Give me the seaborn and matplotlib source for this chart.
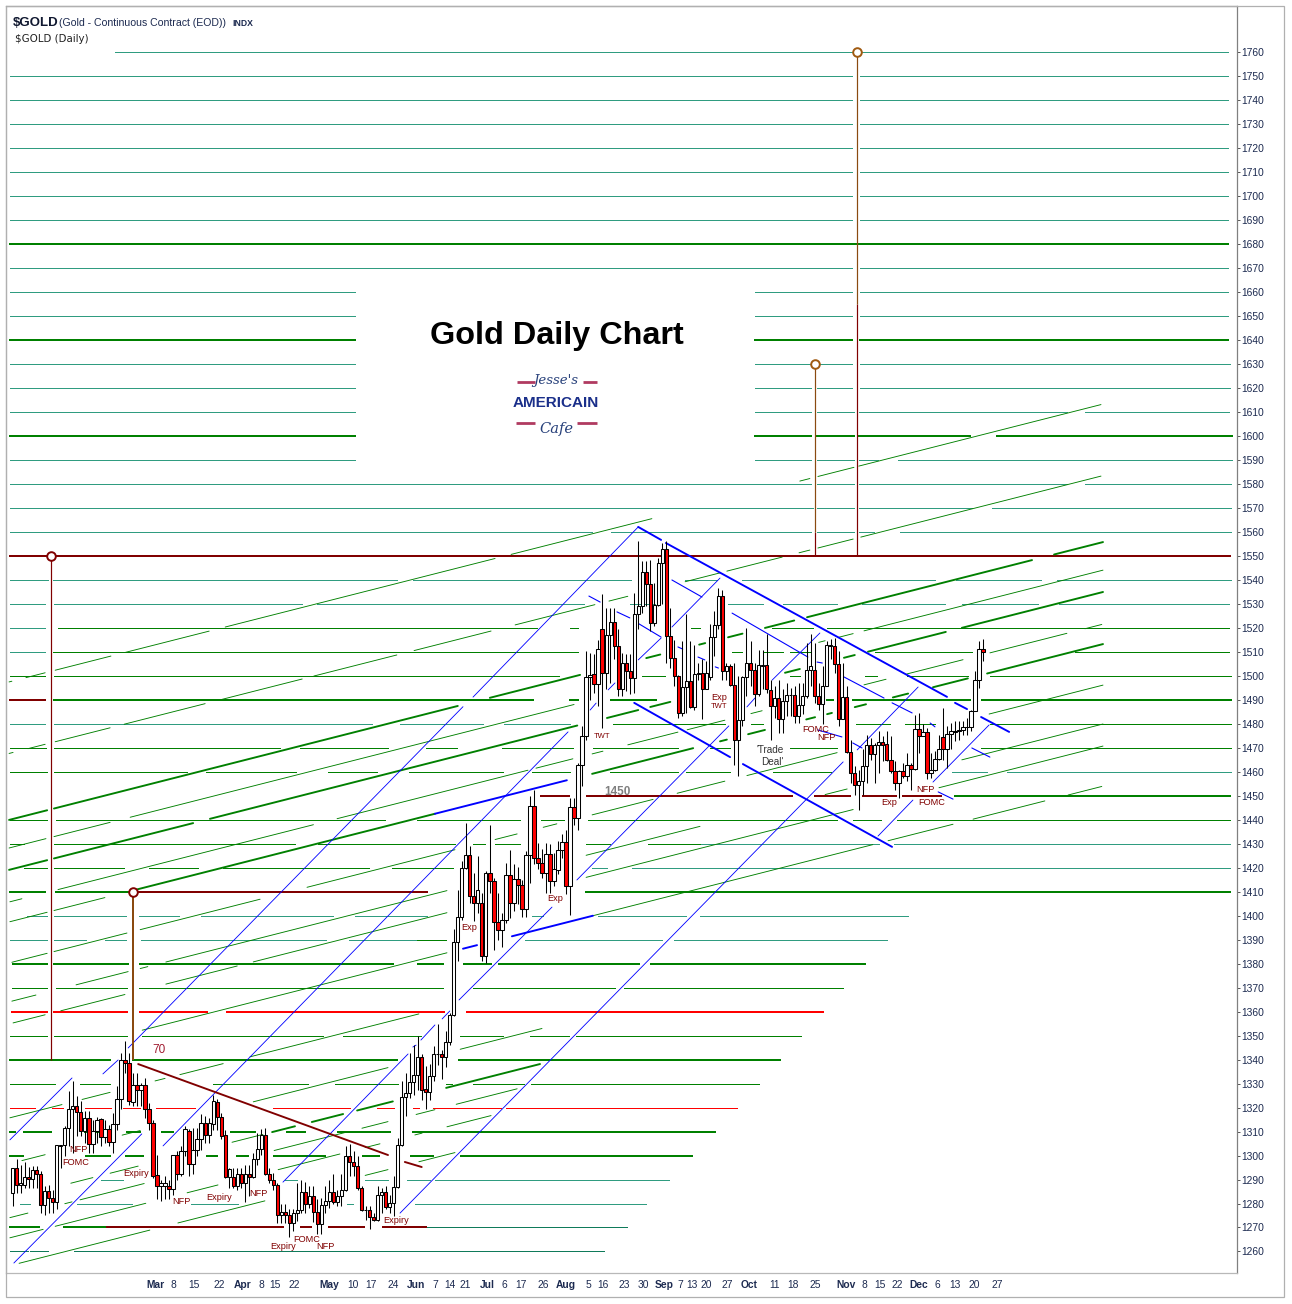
import matplotlib
matplotlib.use("Agg")
import matplotlib.pyplot as plt
from matplotlib.patches import Rectangle
import numpy as np
import pandas as pd
import seaborn as sns

# daily candles
opens = [1284.4,1294.9,1287.6,1287.9,1291.1,1290.3,1293.9,1292.1,1279.2,1285.1,
    1282.4,1280.7,1303.9,1304.2,1311.5,1319.4,1320.5,1318.2,1310.1,1315.7,
    1305,1310.1,1315,1307.8,1311.1,1305.7,1313.2,1323.6,1339.7,1338.6,
    1322.2,1329.3,1327.5,1329.3,1319.4,1313.6,1291.7,1287.5,1287.5,1287.5,
    1286.1,1300.1,1292.1,1301.8,1310.1,1296.5,1302.2,1306.9,1313.6,1308.5,
    1313.3,1322.4,1316.1,1308.5,1291.1,1291.1,1287.2,1292.4,1288.6,1292.4,
    1291.1,1298.6,1302.8,1308.5,1292.1,1289.7,1287.8,1275.4,1276.4,1275.4,
    1271.9,1276.1,1277.2,1284.7,1279.6,1283,1276.4,1271.5,1279.3,1281,
    1284.7,1280.7,1283,1285.8,1299.7,1297.4,1295.5,1286.5,1277.2,1277.2,
    1274.3,1273,1283.7,1284.7,1278.6,1280.3,1286.9,1304.3,1324.4,1326.1,
    1330.7,1333.7,1341.1,1327.5,1326.5,1333,1342.2,1342.4,1341.1,1347.4,
    1358.6,1389,1399.4,1419.9,1425.4,1408.3,1405.3,1405.3,1383.3,1417.8,
    1414.3,1397.4,1394,1398.2,1416.8,1405.3,1415.3,1412.8,1402.8,1425.4,
    1445.8,1424,1421.9,1417.8,1425.7,1414.3,1419,1427.1,1430.7,1412.2,
    1445.3,1440.7,1462.8,1474.7,1499.4,1500.7,1496.5,1519.4,1501.1,1516.7,
    1522.4,1512.2,1494.4,1505,1501.8,1499,1525.7,1528.9,1543.2,1538.2,
    1521.9,1529.3,1546.9,1552.8,1516.4,1507.4,1499.7,1484.4,1495.3,1497.6,
    1487,1500.8,1501.1,1494.4,1499.4,1516.1,1521.1,1533.1,1501.8,1503.9,
    1496.1,1473.3,1481.4,1499.4,1505.3,1502.5,1492.5,1503.9,1504.3,1493.9,
    1487.5,1490.7,1481.9,1489.3,1491.7,1491.9,1483.1,1487.9,1491.4,1502.1,
    1502.1,1491.4,1488.2,1495.8,1512.2,1512.5,1504.9,1481.7,1491.1,1468.2,
    1459.4,1454.3,1456,1462.2,1471,1467.5,1471,1472.2,1471.5,1465,
    1460.1,1455.3,1460.1,1458,1462.9,1461.1,1477.8,1475,1476.5,1459.4,
    1460.5,1465.3,1474.4,1469.4,1475.7,1476.5,1476.8,1477.1,1478.4,1478.6,
    1485.4,1498,1511.1]
closes = [1294.9,1287.6,1288.6,1291.1,1290.3,1293.9,1292.1,1279.2,1285.1,1282.4,
    1280.7,1304.2,1304.2,1311.5,1319.4,1320.5,1318.2,1310.1,1315.7,1305,
    1310.1,1315,1307.8,1311.1,1305.7,1313.2,1323.6,1339.7,1338.6,1322.6,
    1329.3,1327.5,1329.3,1319.4,1313.6,1291.4,1287.5,1288.6,1288.6,1286.1,
    1300.1,1292.1,1301.8,1311.1,1296.5,1302.2,1306.9,1313.6,1308.5,1313.6,
    1322.9,1316.1,1308,1291.1,1294.2,1287.2,1292.4,1288.6,1292.4,1291.1,
    1298.6,1302.8,1308.5,1292.1,1289.7,1287.8,1275.4,1276.4,1275.1,1271.9,
    1276.1,1277.2,1284.7,1279.6,1283,1276.4,1271.5,1279.3,1281,1284.7,
    1280.7,1283,1285.8,1299.7,1297.4,1295.5,1286.5,1277.2,1277.5,1274.3,
    1273,1283.7,1284.7,1278.6,1280.3,1286.9,1304.3,1324.4,1326.1,1330.7,
    1333.7,1341.1,1327.5,1326.5,1333,1342.4,1342.4,1341.1,1347.4,1358.6,
    1389,1399.4,1419.9,1425.4,1408.3,1405.3,1410.8,1383.3,1417.8,1414.3,
    1397.4,1394,1398.2,1416.8,1405.3,1415.3,1412.8,1402.8,1425.4,1445.8,
    1424,1421.9,1417.8,1425.7,1414.3,1419.2,1427.1,1430.7,1412.2,1445.3,
    1440.7,1462.8,1474.7,1499.4,1500.4,1496.5,1511.1,1501.1,1516.7,1522.4,
    1512.5,1494.4,1505,1501.8,1499,1525.7,1528.9,1543.2,1538.2,1521.9,
    1529.3,1546.9,1552.8,1516.4,1507.4,1499.7,1484.4,1495.3,1497.6,1487,
    1500.8,1501.1,1494.4,1501.1,1516.1,1521.1,1533.1,1501.8,1503.9,1496.1,
    1473.3,1481.4,1499.4,1505.3,1502.5,1492.5,1504.3,1504.3,1494.2,1487.5,
    1490.7,1481.9,1489.3,1491.9,1491.9,1483.1,1487.9,1491.4,1502.1,1503.9,
    1491.4,1488.2,1495.8,1512.5,1512.5,1504.9,1481.7,1491.1,1468.2,1459.4,
    1454.3,1456,1462.2,1471,1467.5,1471,1472.2,1471.2,1465,1460.1,
    1455.3,1460.1,1458,1462.9,1461.1,1477.8,1475,1476.5,1459.4,1460.5,
    1465.3,1469.4,1469.4,1475.7,1476.8,1476.8,1477.1,1478.6,1478.6,1485.4,
    1498,1511.1,1509.9]
highs = [1295,1298.7,1296.2,1297.4,1295.3,1295.5,1295.5,1293.5,1287.2,1287.9,
    1285.8,1304.2,1304.2,1312.5,1326.8,1331,1324.7,1322.6,1318.5,1318.5,
    1315,1316.1,1315.7,1315,1312.9,1317.8,1328.9,1342.8,1347.6,1342.8,
    1334.4,1334.4,1330.3,1332.4,1322,1315,1300.4,1290,1291.4,1290,
    1300.4,1301.8,1303.9,1312.5,1311.1,1311.5,1311.5,1317.5,1316.4,1315.7,
    1325.4,1323.6,1317.8,1310.8,1294.9,1294.9,1294.9,1294.9,1296.2,1296.2,
    1301.1,1309.4,1311.1,1311.5,1294.9,1292.8,1288.6,1279.6,1279.6,1277.5,
    1277.5,1288.6,1290,1288.9,1287.2,1287.2,1281.7,1282.4,1287.2,1290,
    1292.1,1285.8,1292.1,1303.9,1304.6,1301.8,1299.7,1287.2,1278.9,1278.9,
    1276.1,1287.2,1286.5,1287.2,1283.7,1291.4,1307.4,1331,1334.4,1342.8,
    1346.2,1349.7,1342.1,1337.2,1338.3,1345.8,1354.6,1343.9,1352,1359.4,
    1394.2,1410.8,1422.6,1438.6,1428.9,1417.8,1424.7,1409.4,1418.5,1437.9,
    1415.7,1409.4,1401.1,1421.9,1427.5,1421.3,1420.3,1415,1426.8,1449.7,
    1452.5,1430.3,1427.9,1430.3,1429.6,1426.1,1431,1433.8,1435.8,1449,
    1449,1463.6,1478.9,1510.1,1509.4,1508.8,1515,1533.8,1528.2,1528.2,
    1528.2,1519.2,1509.4,1508.8,1508.8,1534.4,1556,1547.6,1547.6,1548.3,
    1538.6,1549,1555.3,1556,1528.2,1515,1500.4,1514.3,1525.8,1514.3,
    1512.9,1505.3,1506.7,1506,1521.3,1526.8,1536.3,1535.8,1505.3,1504.6,
    1505.3,1499.7,1499.7,1519.9,1514.3,1505.3,1510.8,1510.8,1517.1,1498.3,
    1495.6,1498.3,1494.2,1496.9,1494.9,1495.6,1497,1497,1513.6,1517.1,
    1513.6,1497,1503.9,1514.3,1515.4,1515.7,1510.1,1505.3,1495.6,1473.3,
    1462.2,1460.8,1469.2,1475.4,1474,1471.9,1476.8,1474.7,1476.8,1474.7,
    1464.3,1460.8,1463.6,1467.8,1463.6,1483.7,1484.4,1479.6,1478.2,1467.8,
    1468.5,1475.4,1486.5,1478.9,1480.3,1481,1481,1481,1482.4,1485.8,
    1501.8,1514.3,1515.3]
lows = [1278.9,1284.2,1284.4,1286.5,1286.5,1286.5,1286.5,1276.1,1275,1276.1,
    1276.1,1277.5,1294.8,1299.7,1303.9,1301.1,1308,1308,1305.3,1301.1,
    1301.1,1305.3,1303.9,1305.3,1303.9,1301.1,1310.8,1319.2,1334.4,1321.2,
    1320.5,1320.5,1320.5,1315.7,1310.8,1290.7,1281.9,1281,1281.7,1281.7,
    1283.7,1290,1291.4,1299.7,1291.4,1292.1,1299.7,1302.5,1305.3,1305.3,
    1310.8,1310.8,1306.7,1290.7,1286.5,1286.5,1285.8,1286.5,1280.5,1283,
    1290.7,1296.2,1300.4,1291.7,1288.6,1285.8,1271.9,1271.9,1271.9,1266.1,
    1268.5,1272.6,1276.1,1276.1,1278.2,1272.2,1267.1,1267.1,1276.1,1278.2,
    1279.6,1278.9,1278.9,1285.1,1291.4,1291.4,1285.8,1276.8,1273.3,1269.2,
    1272.6,1272.6,1276.1,1277.5,1276.1,1274.7,1286.5,1303.9,1316.4,1324,
    1325.4,1327.5,1323.3,1319.2,1323,1331,1337.9,1331.7,1336.8,1346,
    1358.1,1381,1398.3,1419.2,1405.3,1397.6,1401.1,1381,1380.3,1409.4,
    1385.8,1390,1386.8,1396.9,1399,1401.8,1404.6,1399.4,1399.4,1413.6,
    1421.3,1419.2,1415.7,1409.4,1409.4,1412.2,1417.1,1424,1408.8,1400.4,
    1437.9,1435.8,1453.9,1473.3,1490,1492.8,1487.2,1478.2,1494.2,1496.9,
    1506.7,1491.4,1491.4,1493.5,1492.1,1492.8,1519.2,1526.1,1528.9,1518.5,
    1520.6,1528.9,1529.6,1505.3,1503.2,1495.6,1482.4,1483.1,1484.4,1486.5,
    1485.8,1498.3,1481.7,1494.2,1498.3,1508,1519.2,1498.3,1498.3,1495.6,
    1462.9,1458,1478.9,1491.4,1495.6,1487.2,1491.4,1494.2,1492.8,1473.3,
    1482.4,1476.1,1476.1,1483.1,1483.1,1480.3,1480.3,1483.8,1490.7,1495.6,
    1488.6,1485.8,1479.6,1495.6,1506.7,1501.1,1478.9,1481.7,1467.8,1455.3,
    1450.4,1443.9,1450.4,1455.3,1465,1455.3,1459.4,1464.3,1464.3,1459.4,
    1452.5,1449,1457.3,1456,1452.5,1460.8,1467.8,1474.7,1456.7,1457.3,
    1460.1,1465,1465,1461.5,1469.2,1472.6,1473.3,1475.4,1475.4,1476.8,
    1485.1,1494.9,1506]

# axis ticks
price_ticks = list(range(1260, 1770, 10))
date_pos = [35.7,40.1,45.2,51.5,57.4,61.9,65.4,70.2,78.9,84.9,89.4,94.8,100.6,105.3,109,112.8,
    118.3,122.5,126.8,132.3,138,143.7,147.2,152.5,157.2,162.4,166.4,169.4,172.9,178.1,183.6,
    190.1,194.6,200.1,207.8,212.5,216.3,220.5,226,230.7,234.9,239.7,245.5]
date_labels = ["Mar","8","15","22","Apr","8","15","22","May","10","17","24","Jun","7","14","21",
    "Jul","6","17","26","Aug","5","16","23","30","Sep","7","13","20","27","Oct",
    "11","18","25","Nov","8","15","22","Dec","6","13","20","27"]

# horizontal levels: price -> spans in bars
top_gap = [(-0.7,209.3),(211.3,303.1)]
box_gap = [(-0.7,85.4),(185.1,209.3),(211.3,303.1)]
box_gap2 = [(-0.7,85.4),(185.1,199.1),(200.6,209.3),(211.3,303.6)]
teal_levels = {
    1760: [(25.5,209.3),(211.3,303.1)],
    1750: top_gap, 1740: top_gap, 1730: top_gap, 1720: top_gap, 1710: top_gap, 1700: top_gap, 1690: top_gap,
    1670: top_gap, 1660: box_gap, 1650: box_gap, 1630: box_gap2, 1620: box_gap2,
    1610: [(-0.7,85.4),(185.1,199.1),(200.6,209.8),(211,263),(267.4,303.3)],
    1590: [(-0.7,85.4),(185.1,199.1),(200.6,209.8),(211,215.9),(220.8,304)],
    1580: [(-0.7,199.1),(200.6,209.8),(211,263),(267.4,303.8)],
    1570: [(-0.7,199.6),(200.6,209.8),(211,239.2),(244.2,303.8)],
    1560: [(-0.7,144.5),(149.2,199.1),(200.6,209.8),(211,214.8),(221.3,303.8)],
    1540: [(-0.7,8.8),(10.1,95.9),(99.9,154.2),(167.7,175.6),(181.9,229.9),(235.3,256.5),(260.5,303.8)],
    1530: [(-0.7,8.1),(10.3,72.2),(75.9,142.5),(153.9,160.2),(178.4,187.1),(192.1,205.6),(211.8,232.5),(236.7,255.8),(261,303.3)],
    1520: [(-0.7,8.1)],
    1510: [(-0.7,8.1)],
    1480: [(-0.7,8.1),(10.3,89.6),(96.6,117.3),(122.5,139)],
    1460: [(234.3,243),(248,303.8)],
    1430: [(171.4,216),(219.8,303.6)],
    1420: [(144.5,148.2),(154.4,303.6)],
    1400: [(3.6,8.6),(10.3,28.3),(31.5,41.5),(47,80),(85.4,103.3),(129.5,132.3),(146,168),(171.4,223.3)],
    1390: [(-0.7,8.6),(10.3,18.3),(23,28.3),(32,78.1),(83.9,100.8),(127.8,162),(165,218)],
    1290: [(22,27.5),(67.9,70.9),(87.9,93.6),(98.3,104),(105.3,163.7)],
    1280: [(1.8,4.3),(16,29.8),(44.5,56.2),(83.4,84.9),(100.3,158)],
}
deep_teal_levels = {
    1270: [(102.8,153.2)],
    1260: [(-0.7,3.8),(4.3,8.8),(15.3,147.5)],
}
green_levels = {
    1520: [(11.3,130.7),(139,141),(169.1,171.4),(189.4,199.6),(203.1,303.3)],
    1510: [(10.1,141),(179.4,182),(187.1,192.1),(193.9,199.1),(215,239.2),(265,303.3)],
    1500: [(-0.7,8.1),(10.3,136.2),(157,162.7),(193.9,196.3),(212.5,215.6),(223,238.2),(243.7,303.8)],
    1480: [(149.7,177.6),(184,187.1),(210.3,218.8),(222.5,230),(243.7,303.8)],
    1470: [(-0.7,8.3),(10.3,66.7),(71.6,93.6),(103,110.8),(122,139.7),(144.7,165.9),(173.9,178.9),(193.9,205.6),(241.4,303.8)],
    1460: [(-0.7,8.6),(10.3,43.5),(48.2,70.7),(78.6,90.8),(98.8,122.3),(129.5,139),(149,166),(168,178.9),(189.6,204)],
    1440: [(-0.7,8.6),(10.8,92.9),(100.8,126.5),(131.7,137.5),(143.5,205.6),(209.6,216.6),(220.5,303.6)],
    1430: [(-0.7,2.8),(10.3,70.4),(76.1,110.3),(114.8,117.8),(120.3,126.5),(143,149),(158.4,171.4)],
    1420: [(2.8,8.6),(10.3,27.8),(34,46.2),(52.5,88.9),(94.6,109.8)],
    1390: [(100.8,108)],
    1370: [(-0.2,8.6),(10.8,28.5),(31.5,107.3),(114.8,150.2),(152.5,207.1)],
    1350: [(-0.7,8.6),(10.3,28.5),(32.2,77.4),(82.4,101.8),(111.5,122.3),(129,138.7),(140.5,196.6)],
    1330: [(-0.7,10.6),(16.8,24.3),(50,73.6),(80.4,96.1),(108.1,109.6),(114.8,127.5),(129.3,186.1)],
}
thick_levels = {
    1680: [(-0.7,303.1)],
    1640: box_gap,
    1600: [(-0.7,85.4),(185.1,199.1),(200.6,209.8),(211,238.8),(245.5,304)],
    1490: [(10.3,129.7),(139,141),(149.2,160.4),(203.1,204.6),(209.5,238.8),(241.7,303.8)],
    1450: [(235,303.6)],
    1410: [(-0.7,8.1),(10.8,28.8),(143,303.6)],
    1380: [(0.1,8.6),(10.3,28.8),(31.8,94.9),(101.1,107.3),(112.5,119.3),(121.3,156.2),(159.2,212.5)],
    1340: [(-0.7,24.3),(30,95.8),(111.3,191.3)],
    1310: [(-0.7,0.6),(2.8,9.6),(18,24.3),(28.5,31.8),(37.2,40),(54.4,60.4),(68.4,73),(81.1,94.1),(99.8,175.2)],
    1300: [(-0.7,2.6),(18.3,24.3),(28.3,32.5),(48.5,51),(56,58.7),(65.2,78),(87.4,91.4),(99.3,104.8),(111.8,169.4)],
    1270: [(-0.7,6.6),(12.8,23.5)],
}
red_thick_levels = {1360: [(-0.2,8.6),(10.3,28.5),(31.8,48.5),(53.4,107.6),(113.3,202.1)]}
red_levels = {1320: [(-0.7,5.6),(9.8,12.5),(18,24.5),(27.5,31.8),(35.7,45.4),(65,84.1),(90.9,95.1),(99.8,101.3),(104.8,121.8),(123,180.6)]}
maroon_levels = {
    1550: [(-0.7,303.6)],
    1490: [(-0.7,8.1)],
    1450: [(131.7,138.7),(143.2,194.4),(200.1,208.8),(212,220.3),(222,231.6)],
    1410: [(31,103.3)],
    1270: [(23.5,67.4),(71.9,74.4),(78.9,87.6),(92.4,103)],
}

# rising parallel fan: price at bar 0 -> visible spans
fan_slope = 0.4244
fan_thin = {
    1497.7: [(-0.9,-0.2),(3.3,8.1),(10.6,24.5),(28,49),(53,120.3),(124.3,159.4),(196.3,198.8),(200.8,209.8),(211,271.4)],
    1467.9: [(-0.9,0.1),(3.8,8.1),(10.6,24.3),(27.8,48),(52.2,72.2),(75.1,95.8),(100.1,119.3),(125.3,145.2),(148.7,153.4),(167.7,176.4),(178.1,191.9),(196.1,198.8),(200.8,209.6),(211.5,271.4)],
    1428.5: [(-0.9,8.3),(10.3,24.3),(29.3,140),(201,202.6),(205.9,209.6),(212.3,271.9)],
    1406: [(-0.7,2.3),(11.3,75),(80.9,128.5),(130.5,139.7),(144.5,147.2),(153.4,165.9),(168.2,177.6),(184.1,186.9),(212.3,217.8),(223,237),(243.7,262.9),(267.4,271.6)],
    1397.7: [(-0.7,8.6),(10.3,23)],
    1380.6: [(-0.2,8.6),(10.3,28.5),(31.8,61.7),(73.4,110.3),(120.3,125.8),(132.3,135.7),(144.5,159.7),(165.7,177.6),(183.1,205.6),(243.5,271.9)],
    1364.4: [(-0.2,5.8),(15.8,28.8),(31.8,33.7),(38.2,108.3),(143,171.4),(202.6,208.1),(236.7,271.9)],
    1355.2: [(0.1,8.1),(12,28),(38.2,56),(60,108.3),(143,209.6),(231,271.9)],
    1338.5: [(32.3,108.3),(144.7,214.5),(218.3,234.5),(239.5,257.4),(263.2,271.6)],
    1316: [(-0.7,12.3),(17.3,24.3),(35.5,38),(41.7,52.5),(59.2,101.3)],
    1296.9: [(2.3,8.1),(27.3,31.8),(60,93.6),(111.6,132)],
    1282.3: [(14.5,20),(24.3,31.3),(54.7,62.4)],
    1274.4: [(-0.7,3.8),(13,14.8),(16.8,32.8),(65.2,82.9),(87.1,93.6),(100.6,105.3),(110.6,125.8)],
    1266: [(-0.7,7.6),(10.6,33.2),(43.5,51.2),(66.2,81.6),(87.9,91.6),(100.3,102.1),(108.3,119.3)],
    1254.4: [(1.6,34.2),(41.2,62.9),(87.9,93.6),(101.3,110.3)],
}
fan_thick = {
    1440.2: [(-0.9,8.6),(10.3,111),(119,141.5),(158,161.5),(171.2,172.7),(178.4,182),(187.6,194.9),(198.1,254.2),(259.7,271.9)],
    1419.4: [(-0.9,8.6),(10.3,45),(49.2,140.8),(148.2,156),(159,164),(192.6,196.3),(207.3,210),(213.3,232.7),(236.7,271.9)],
    1397.7: [(30,105.3),(144.5,169.7),(176.4,178.1),(183.4,187.6),(197.9,200.1),(203.1,204.3),(210,212.8),(219.5,223.3),(229.5,238.2),(243,271.9)],
    1282.3: [(64.7,70.4),(74.6,82.4),(85.9,94.8),(108.1,131.5)],
}
fan_blue = {
    1397.7: [(105.3,138.2)],
    1338.5: [(112.3,115.8),(124.5,144.7)],
}

# trendlines: bar, price, bar, price
blue_thin_lines = [(-0.7,1306.5,14.8,1332.3),(0.3,1255.2,32.2,1309),(22.5,1334,26.3,1339.8),
    (28.8,1344.8,112.3,1487),(114.8,1491,156,1561.9),(37.5,1304,138.5,1476.5),
    (144,1485.6,145.5,1488.5),(148.5,1494,150.2,1496.9),(156,1506.5,161.7,1515.6),(164.4,1520.2,176.4,1540.6),
    (67.4,1288.9,98.6,1342.3),(99.8,1345.2,100.6,1346),(101.8,1348.1,105.3,1354.4),(107.1,1356.9,109,1360.2),
    (111.3,1364.8,134.5,1403.5),(140.7,1414.8,178.6,1479),(183.1,1486.9,185.1,1490.6),(189.4,1498.1,201.3,1517.7),
    (96.6,1276,207.1,1464),(210.6,1469,225.8,1495.2),(215.8,1433.1,224.5,1448.1),(229.5,1455.6,243.5,1479.4)]
blue_mid_lines = [(143.7,1533.1,146.5,1530.6),(150.7,1526.5,153.9,1524),(156.2,1521.5,161.7,1516),
    (165.9,1511.9,167.1,1511),(170.9,1507.7,172.6,1506.5),(175.2,1503.6,176,1503.1),
    (164.4,1539.8,171.9,1532.7),(179.4,1526,198.3,1507.7),(200.6,1505.6,201.9,1505.2),
    (207.3,1499.4,217.3,1490.6),(219.3,1488.6,224.3,1484.4),(228.8,1480.2,230,1478.6),(239.2,1469.8,243.7,1466),
    (200.8,1477.3,206.8,1474.4),(209.5,1471.9,211.8,1469.8),(230.8,1451.5,234.5,1448.5)]
blue_channel_lines = [(156,1561.9,161.7,1556.5),(162.9,1555.2,233,1491.1),(235,1488.6,238,1486),
    (241.5,1482.7,248.5,1476.5),(155,1488.6,178.9,1466),(182.1,1463.1,219.3,1428.6)]
maroon_lines = [(31.3,1338.1,93.6,1300.2),(97.8,1297.3,102,1295.2)]

# target stems: bar, from, to
maroon_stems = [(9.56,1340,1550),(200.1,1550,1560),(210.5,1550,1655)]
brown_thick_stems = [(30,1340,1410)]
brown_stems = [(200.1,1560,1630),(210.5,1655,1760)]
stem_tops = [(9.56,1550,"#800000"),(30,1410,"#800000"),(200.1,1630,"#a05a10"),(210.5,1760,"#a05a10")]

# notes on the chart
note_texts = ["NFP","FOMC","Expiry","NFP","Expiry","NFP","Expiry","FOMC","NFP","Expiry","Exp","Exp",
    "TWT","Exp","TWT","FOMC","NFP","Exp","NFP","FOMC"]
note_bars = [16.3,15.8,30.8,42,51.5,61.4,67.4,73.4,78,95.6,113.8,135.2,147,176.2,176.2,200.3,203,218.5,227.5,229.3]
note_prices = [1302.3,1296.9,1292.3,1281,1282.7,1284,1261.9,1264.9,1261.9,1273,1395,1407,1474.4,1490.8,1487,1477.7,1474,1447,1452.3,1447]

TEAL = "#2f9c80"
DEEP_TEAL = "#0f7a5a"
GREEN = "#008000"
RED = "#ff0000"
MAROON = "#800000"
BLUE = "#0000ff"
BROWN = "#8a4a10"
INK = "#1c2a50"


def span_frame(levels):
    rows = []
    for n, (lev, spans) in enumerate(levels.items()):
        for m, (a, b) in enumerate(spans):
            rows.append((a, lev, f"{n}-{m}"))
            rows.append((b, lev, f"{n}-{m}"))
    return pd.DataFrame(rows, columns=["bar", "price", "seg"])


def fan_frame(fan):
    rows = []
    for n, (base, spans) in enumerate(fan.items()):
        for m, (a, b) in enumerate(spans):
            rows.append((a, base + fan_slope * a, f"{n}-{m}"))
            rows.append((b, base + fan_slope * b, f"{n}-{m}"))
    return pd.DataFrame(rows, columns=["bar", "price", "seg"])


def line_frame(lines):
    rows = []
    for n, (a, pa, b, pb) in enumerate(lines):
        rows.append((a, pa, n))
        rows.append((b, pb, n))
    return pd.DataFrame(rows, columns=["bar", "price", "seg"])


def draw(ax, df, color, px, z, aa=False):
    sns.lineplot(data=df, x="bar", y="price", units="seg", estimator=None, sort=False,
                 color=color, linewidth=px * 0.72, ax=ax, legend=False, zorder=z,
                 antialiased=aa)


def draw_stems(ax, stems, color, px):
    for bar, p0, p1 in stems:
        ax.vlines(bar, p0, p1, colors=color, lw=px * 0.72, zorder=2.4)


sns.set_theme(style="white")
plt.rcParams["font.family"] = ["Liberation Sans", "DejaVu Sans"]

fig = plt.figure(figsize=(12.92, 13.04), dpi=100)
ax = fig.add_axes([6 / 1292, 1 - 1273 / 1304, (1237 - 6) / 1292, (1273 - 6) / 1304])

draw(ax, span_frame(teal_levels), TEAL, 1, 1)
draw(ax, span_frame(deep_teal_levels), DEEP_TEAL, 1, 1)
draw(ax, span_frame(green_levels), GREEN, 1, 1)
draw(ax, span_frame(thick_levels), GREEN, 2, 1.2)
draw(ax, span_frame(red_thick_levels), RED, 2, 1.2)
draw(ax, span_frame(red_levels), RED, 1, 1.2)
draw(ax, span_frame(maroon_levels), MAROON, 2, 1.3)

# the thin slanted lines stay antialiased, aliased ones come out too heavy
draw(ax, fan_frame(fan_thin), GREEN, 0.9, 2, aa=True)
draw(ax, fan_frame(fan_thick), GREEN, 1.9, 2, aa=True)
draw(ax, fan_frame(fan_blue), BLUE, 1.9, 2.1, aa=True)
draw(ax, line_frame(blue_thin_lines), BLUE, 0.85, 2.2, aa=True)
draw(ax, line_frame(blue_mid_lines), BLUE, 1.1, 2.2, aa=True)
draw(ax, line_frame(blue_channel_lines), BLUE, 1.9, 2.3, aa=True)
draw(ax, line_frame(maroon_lines), MAROON, 1.9, 2.3, aa=True)

draw_stems(ax, maroon_stems, MAROON, 1.2)
draw_stems(ax, brown_stems, BROWN, 1.2)
draw_stems(ax, brown_thick_stems, BROWN, 2)
for bar, price, col in stem_tops:
    ax.plot([bar], [price], "o", ms=6.2, mfc="white", mec=col, mew=1.4, zorder=2.6)

# candles
x = np.arange(len(opens))
o, c, h, l = map(np.array, (opens, closes, highs, lows))
ax.vlines(x, l, h, color="black", lw=0.75, zorder=3)
body_low = np.minimum(o, c)
body_h = np.maximum(np.abs(c - o), 0.3)
ax.bar(x, body_h, bottom=body_low, width=0.82,
       color=np.where(c >= o, "white", RED), edgecolor="black", linewidth=0.75, zorder=4)

for txt, bar, price in zip(note_texts, note_bars, note_prices):
    small = txt == "TWT"
    ax.text(bar, price, txt, color=MAROON, fontsize=5.5 if small else 6.6, ha="center", va="center", zorder=5)
ax.text(188.9, 1469, "'Trade", color="#333333", fontsize=7.2, ha="center", va="center", zorder=5)
ax.text(189.4, 1464, "Deal'", color="#333333", fontsize=7.2, ha="center", va="center", zorder=5)
ax.text(36.5, 1344, "70", color="#a01c30", fontsize=8.5, ha="center", va="center", zorder=5)
ax.text(150.8, 1451.5, "1450", color="#808080", fontsize=8.5, fontweight="bold", ha="center", va="center", zorder=5)

# title block and logo
ax.text(135.6, 1641.5, "Gold Daily Chart", color="black", fontsize=23.3, fontweight="bold", ha="center", va="center", zorder=6)
ax.text(135.5, 1623, "Jesse's", color="#27407a", fontsize=9.5, style="italic", family=["DejaVu Serif"], ha="center", va="center", zorder=6)
ax.text(135.5, 1613.5, "AMERICAIN", color="#1a2f8a", fontsize=11, fontweight="bold", family=["Liberation Sans Narrow", "Liberation Sans"], ha="center", va="center", zorder=6)
ax.text(135.5, 1602.5, "Cafe", color="#27407a", fontsize=10.5, style="italic", family=["DejaVu Serif"], ha="center", va="center", zorder=6)
logo_rows = [(125.8, 130.2, 1622.3), (142.2, 145.7, 1622.3), (125.5, 130.2, 1605.3), (140.7, 145.7, 1605.3)]
for a, b, p in logo_rows:
    ax.hlines(p, a, b, color="#b03a60", lw=2, zorder=6)

ax.set_xlim((6 - 12.67) / 4.01, (1237 - 12.67) / 4.01)
ax.set_ylim(1760 - (1273 - 51.5) / 2.4, 1760 + (51.5 - 6) / 2.4)
ax.set_xlabel("")
ax.set_ylabel("")

ax.yaxis.tick_right()
ax.set_yticks(price_ticks)
ax.set_yticklabels([str(p) for p in price_ticks], fontsize=7.4, color=INK)
ax.tick_params(axis="y", length=2, width=0.7, color="#555555", pad=1, right=True, left=False)
ax.set_xticks(date_pos)
ax.set_xticklabels(date_labels, fontsize=7.4, color=INK)
ax.tick_params(axis="x", length=0, pad=5, bottom=True)
for lab in ax.get_xticklabels():
    if lab.get_text().isalpha():
        lab.set_fontweight("bold")
for side, col in (("top", "#808080"), ("left", "#b8b8b8"), ("bottom", "#b8b8b8"), ("right", "#808080")):
    ax.spines[side].set_visible(True)
    ax.spines[side].set_color(col)
    ax.spines[side].set_linewidth(0.9)

fig.add_artist(Rectangle((6 / 1292, 1 - 1297 / 1304), (1284 - 6) / 1292, (1297 - 6) / 1304,
                         transform=fig.transFigure, fill=False, edgecolor="#b0b0b0", lw=0.9))

fig.text(13 / 1292, 1 - 23 / 1304, "$GOLD", fontsize=9.5, fontweight="bold", color="#101830", va="center", parse_math=False)
fig.text(59 / 1292, 1 - 23 / 1304, "(Gold - Continuous Contract (EOD))", fontsize=7.6, color=INK, va="center", parse_math=False)
fig.text(232 / 1292, 1 - 23 / 1304, "INDX", fontsize=6.2, fontweight="bold", color=INK, va="center", parse_math=False)
fig.text(15 / 1292, 1 - 39 / 1304, "$GOLD (Daily)", fontsize=7.4, color="#222222", va="center", family=["DejaVu Sans"], parse_math=False)

fig.savefig("out.png", dpi=100, facecolor="white")
